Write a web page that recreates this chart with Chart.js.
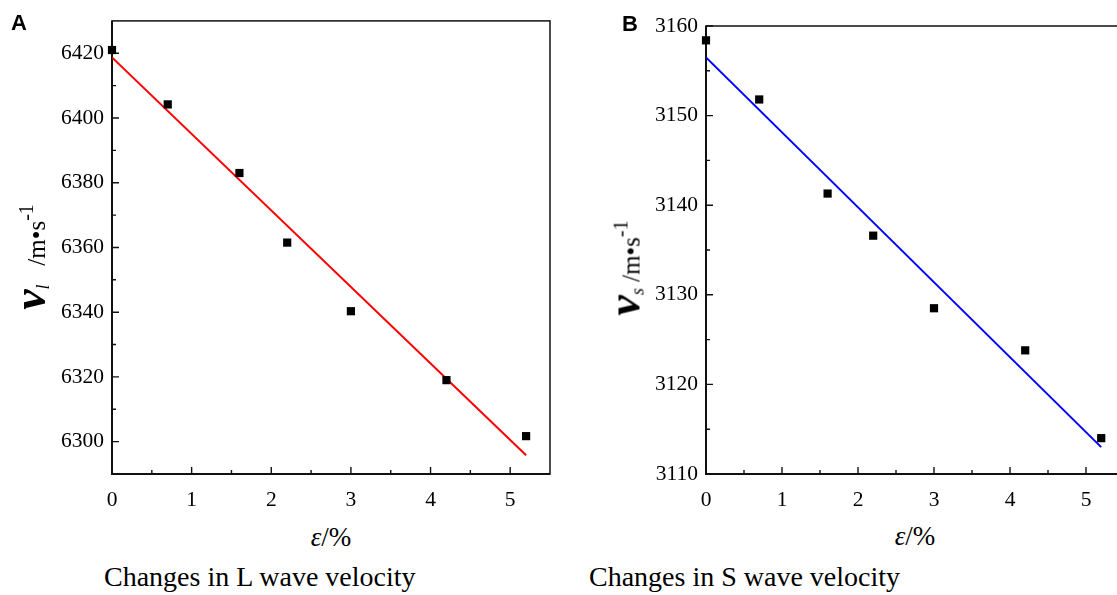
<!DOCTYPE html>
<html>
<head>
<meta charset="utf-8">
<script src="https://cdn.jsdelivr.net/npm/chart.js@4.4.0/dist/chart.umd.min.js"></script>
<style>
  html, body { margin: 0; padding: 0; background: #fff; overflow: hidden; width: 1117px; height: 595px; }
  .wrap { position: absolute; top: 0; }
  .tag { position: absolute; font: bold 22px "Liberation Sans", Arial, sans-serif; color: #000; }
  .caption { position: absolute; font: 28px "Liberation Serif", "Times New Roman", serif; white-space: nowrap; color: #000; }
  .ytitle { position: absolute; font: 25px "Liberation Serif", serif; white-space: nowrap; line-height: 1;
            transform: translate(-50%, -50%) rotate(-90deg); color: #000; }
  .ytitle .v { font: italic bold 46px "Liberation Serif", serif; }
  .ytitle sub { font: italic 18px "Liberation Serif", serif; vertical-align: -4px; }
  .ytitle sup { font: 20px "Liberation Serif", serif; vertical-align: 12px; }
  .xtitle { position: absolute; font: 27px "Liberation Serif", serif; white-space: nowrap; line-height: 1;
            transform: translate(-50%, -50%); color: #000; }
  .xtitle i { font-style: italic; }
</style>
</head>
<body>
<div class="wrap" style="left:0px"><canvas id="chartL" width="560" height="520"></canvas></div>
<div class="wrap" style="left:590px"><canvas id="chartS" width="560" height="520"></canvas></div>

<div class="tag" style="left:11px; top:10px;">A</div>
<div class="tag" style="left:622px; top:11px;">B</div>

<div class="ytitle" style="left:29px; top:257px;"><span class="v">v</span><sub>l</sub>&nbsp;&nbsp;&nbsp;/m•s<sup>-1</sup></div>
<div class="ytitle" style="left:624px; top:268px;"><span class="v">v</span><sub>s</sub>&nbsp;/m•s<sup>-1</sup></div>

<div class="xtitle" style="left:331px; top:537px;"><i>ε</i>/%</div>
<div class="xtitle" style="left:915px; top:536px;"><i>ε</i>/%</div>

<div class="caption" style="left:104px; top:561px;">Changes in L wave velocity</div>
<div class="caption" style="left:589px; top:561px;">Changes in S wave velocity</div>

<script>
// Datos
const strain = [0, 0.7, 1.6, 2.2, 3.0, 4.2, 5.2];
const velocityL = [6421, 6404.2, 6383, 6361.5, 6340.3, 6319, 6301.7];
const velocityS = [3158.4, 3151.8, 3141.3, 3136.6, 3128.5, 3123.8, 3114];

// Recta de ajuste (extremos)
const fitStrain = [0, 5.2];
const fitL = [6418.7, 6295.8];
const fitS = [3156.5, 3113.0];

// Marcas de los ejes
const xTicks = [0, 1, 2, 3, 4, 5];
const xMinor = [0.5, 1.5, 2.5, 3.5, 4.5];
const yTicksL = [6300, 6320, 6340, 6360, 6380, 6400, 6420];
const yMinorL = [6310, 6330, 6350, 6370, 6390, 6410];
const yTicksS = [3110, 3120, 3130, 3140, 3150, 3160];
const yMinorS = [3115, 3125, 3135, 3145, 3155];

Chart.defaults.font.family = '"Liberation Serif", "Times New Roman", serif';
Chart.defaults.font.size = 21;
const tickFont = { family: '"Liberation Serif", "Times New Roman", serif', size: 21.5 };

// Marco y marcas hacia dentro
const framePlugin = {
    id: 'frame',
    beforeDatasetsDraw(chart, args, opts) {
        const { ctx, chartArea: a, scales: { x, y } } = chart;
        ctx.save();
        ctx.strokeStyle = '#111';
        ctx.lineWidth = 1.5;
        ctx.strokeRect(a.left, a.top, a.right - a.left, a.bottom - a.top);
        ctx.lineWidth = 2;
        ctx.beginPath();
        ctx.moveTo(a.left, a.top);
        ctx.lineTo(a.left, a.bottom);
        ctx.lineTo(a.right, a.bottom);
        ctx.stroke();
        ctx.lineWidth = 1.4;
        ctx.beginPath();
        xTicks.forEach(v => { const p = x.getPixelForValue(v); ctx.moveTo(p, a.bottom); ctx.lineTo(p, a.bottom - 7); });
        xMinor.forEach(v => { const p = x.getPixelForValue(v); ctx.moveTo(p, a.bottom); ctx.lineTo(p, a.bottom - 4); });
        opts.yMajor.forEach(v => { const p = y.getPixelForValue(v); ctx.moveTo(a.left, p); ctx.lineTo(a.left + 7, p); });
        opts.yMinor.forEach(v => { const p = y.getPixelForValue(v); ctx.moveTo(a.left, p); ctx.lineTo(a.left + 4, p); });
        ctx.stroke();
        ctx.restore();
    }
};

function makeChart(id, values, fit, lineColor, yMin, yMax, yTicks, yMinor, pad) {
    new Chart(document.getElementById(id).getContext('2d'), {
        type: 'scatter',
        data: {
            datasets: [{
                data: strain.map((s, i) => ({ x: s, y: values[i] })),
                pointStyle: 'rect',
                pointRadius: 5.8,
                backgroundColor: '#000',
                borderColor: '#000',
                borderWidth: 0,
                clip: false
            }, {
                type: 'line',
                data: fitStrain.map((s, i) => ({ x: s, y: fit[i] })),
                borderColor: lineColor,
                borderWidth: 2,
                pointRadius: 0,
                fill: false
            }]
        },
        options: {
            responsive: false,
            animation: false,
            devicePixelRatio: 1,
            layout: { padding: pad },
            plugins: {
                legend: { display: false },
                tooltip: { enabled: false },
                frame: { yMajor: yTicks, yMinor: yMinor }
            },
            scales: {
                x: {
                    type: 'linear', min: 0, max: 5.5,
                    grid: { display: false, drawTicks: false },
                    border: { display: false },
                    ticks: { font: tickFont, color: '#000', padding: 13, maxRotation: 0, callback: v => String(v) },
                    afterBuildTicks: s => { s.ticks = xTicks.map(v => ({ value: v })); },
                    afterFit: s => { s.height = 46; }
                },
                y: {
                    type: 'linear', min: yMin, max: yMax,
                    grid: { display: false, drawTicks: false },
                    border: { display: false },
                    ticks: { font: tickFont, color: '#000', padding: 8, callback: v => String(v) },
                    afterBuildTicks: s => { s.ticks = yTicks.map(v => ({ value: v })); },
                    afterFit: s => { s.width = pad.yWidth; }
                }
            }
        },
        plugins: [framePlugin]
    });
}

function drawAll() {
    makeChart('chartL', velocityL, fitL, '#ff0000', 6290, 6430, yTicksL, yMinorL,
        { top: 12, right: 10, left: 0, bottom: 0, yWidth: 112 });
    makeChart('chartS', velocityS, fitS, '#0000ff', 3110, 3160, yTicksS, yMinorS,
        { top: 26, right: 26, left: 0, bottom: 0, yWidth: 116 });
}

document.fonts.load('21px "Liberation Serif"').then(drawAll, drawAll);
</script>
</body>
</html>
